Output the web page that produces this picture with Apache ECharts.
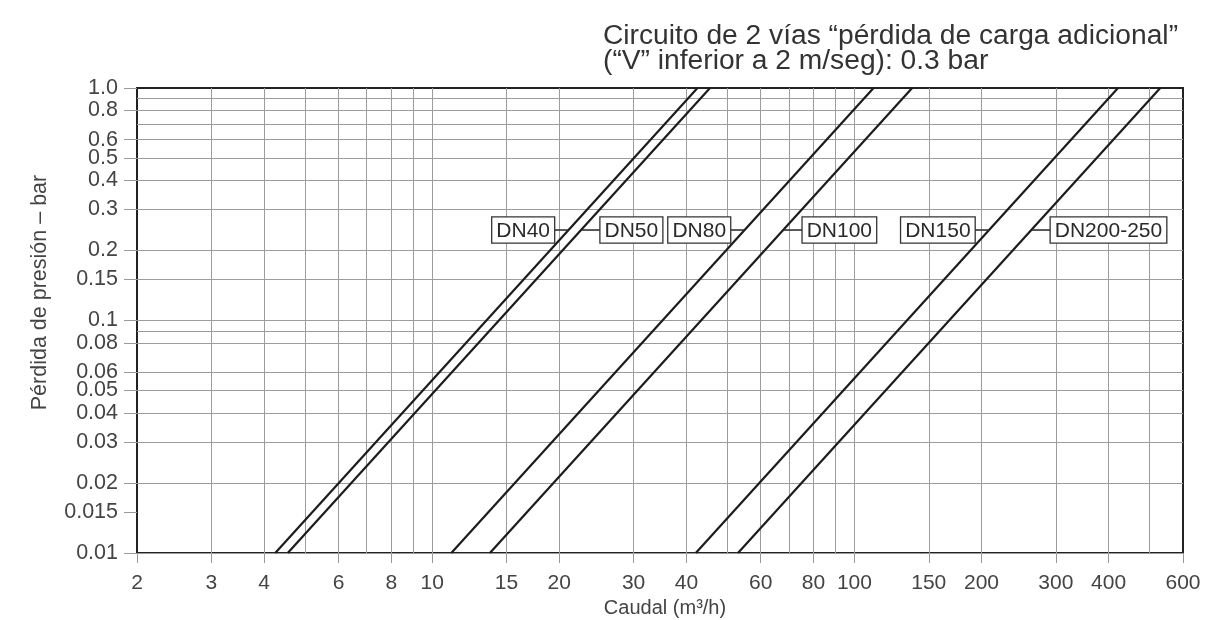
<!DOCTYPE html>
<html><head><meta charset="utf-8">
<script src="https://cdn.jsdelivr.net/npm/echarts@6/dist/echarts.min.js"></script>
<style>html,body{margin:0;padding:0;background:#fff}#c{width:1208px;height:620px}</style>
</head><body><div id="c"></div>
<script>
// ---- data ----
const seriesNames   = ['DN40', 'DN50', 'DN80', 'DN100', 'DN150', 'DN200-250'];
const flowAtMinLoss = [4.25, 4.55, 11.1, 13.7, 42.1, 53.0];   // m3/h at 0.01 bar
const flowAtMaxLoss = [42.5, 45.5, 111, 137, 421, 530];       // m3/h at 1.0 bar
const lossRange     = [0.01, 1.0];
const labelLoss     = 0.245;
const labelSide     = ['left', 'right', 'left', 'right', 'left', 'right'];
const xTickValues   = [2, 3, 4, 6, 8, 10, 15, 20, 30, 40, 60, 80, 100, 150, 200, 300, 400, 600];
const xGridValues   = [3, 4, 5, 6, 7, 8, 9, 10, 15, 20, 30, 40, 50, 60, 70, 80, 90, 100, 150, 200, 300, 400, 500];
const yTickValues   = [0.01, 0.015, 0.02, 0.03, 0.04, 0.05, 0.06, 0.08, 0.1, 0.15, 0.2, 0.3, 0.4, 0.5, 0.6, 0.8, 1.0];
const yTickLabels   = ['0.01', '0.015', '0.02', '0.03', '0.04', '0.05', '0.06', '0.08', '0.1', '0.15', '0.2', '0.3', '0.4', '0.5', '0.6', '0.8', '1.0'];
const yGridValues   = [0.015, 0.02, 0.03, 0.04, 0.05, 0.06, 0.08, 0.09, 0.1, 0.15, 0.2, 0.3, 0.4, 0.5, 0.6, 0.7, 0.8, 0.9];
const titleText     = 'Circuito de 2 vías “pérdida de carga adicional”\n(“V” inferior a 2 m/seg): 0.3 bar';
const xName         = 'Caudal (m³/h)';
const yName         = 'Pérdida de presión – bar';

// ---- chart ----
const FONT = '"Liberation Sans", Arial, Helvetica, sans-serif';
const chart = echarts.init(document.getElementById('c'), null, {renderer: 'canvas'});

function yLabel(v) {
  let best = 0, bd = Infinity;
  yTickValues.forEach((t, i) => { const d = Math.abs(Math.log10(v) - Math.log10(t)); if (d < bd) { bd = d; best = i; } });
  return yTickLabels[best];
}
function xLabel(v) { return String(Math.round(v)); }

function labelFlow(i) {
  const a = Math.log10(flowAtMinLoss[i]), b = Math.log10(flowAtMaxLoss[i]);
  const t = (Math.log10(labelLoss) - Math.log10(lossRange[0])) / (Math.log10(lossRange[1]) - Math.log10(lossRange[0]));
  return Math.pow(10, a + t * (b - a));
}

const richStyle = {
  b: {fontFamily: FONT, fontSize: 21, color: '#2a2a2a', borderColor: '#333', borderWidth: 1.3,
      backgroundColor: '#fff', padding: [3, 4, 1, 4], lineHeight: 22},
  l: {width: 14, height: 1.6, lineHeight: 2, backgroundColor: '#333', fontSize: 2},
  r: {width: 19, height: 1.6, lineHeight: 2, backgroundColor: '#333', fontSize: 2}
};

const dataSeries = seriesNames.map((n, i) => ({
  type: 'line',
  name: n,
  data: [[flowAtMinLoss[i], lossRange[0]], [flowAtMaxLoss[i], lossRange[1]]],
  symbol: 'none',
  lineStyle: {color: '#1c1c1c', width: 2.2},
  z: 3,
  silent: true,
  markPoint: {
    symbol: 'circle', symbolSize: 1, silent: true, z: 6,
    itemStyle: {color: 'rgba(0,0,0,0)'},
    data: [{coord: [labelFlow(i), labelLoss], value: n}],
    label: {
      show: true, position: labelSide[i], distance: 0,
      formatter: labelSide[i] === 'left' ? '{b|' + n + '}{l| }' : '{r| }{b|' + n + '}',
      rich: richStyle
    }
  }
}));

const gridSeries = {
  type: 'line', data: [], silent: true, z: 1,
  markLine: {
    silent: true, z: 1, symbol: ['none', 'none'], label: {show: false},
    lineStyle: {color: '#9c9c9c', width: 1, type: 'solid'},
    emphasis: {disabled: true},
    data: xGridValues.map(v => ({xAxis: v})).concat(yGridValues.map(v => ({yAxis: v})))
  }
};

const option = {
  animation: false,
  backgroundColor: '#fff',
  title: {
    text: titleText, left: 598, top: 19,
    textStyle: {fontFamily: FONT, fontSize: 28.2, fontWeight: 'normal', color: '#333', lineHeight: 25}
  },
  grid: {left: 137, right: 25, top: 88, bottom: 67, outerBoundsMode: 'none', containLabel: false,
         show: true, borderColor: '#222', borderWidth: 2, backgroundColor: 'transparent'},
  xAxis: {
    type: 'log', logBase: 10, min: 2, max: 600,
    name: xName, nameLocation: 'middle', nameGap: 42,
    nameTextStyle: {fontFamily: FONT, fontSize: 20, color: '#444', padding: [0, 0, 0, 10]},
    axisLine: {show: true, lineStyle: {color: '#222', width: 2}},
    axisTick: {show: true, customValues: xTickValues, length: 10, lineStyle: {color: '#999', width: 1}},
    axisLabel: {customValues: xTickValues, margin: 20, formatter: xLabel, fontFamily: FONT, fontSize: 21, color: '#444'},
    splitLine: {show: false}, minorTick: {show: false}, minorSplitLine: {show: false}
  },
  yAxis: {
    type: 'log', logBase: 10, min: 0.01, max: 1.0,
    name: yName, nameLocation: 'middle', nameGap: 86, nameRotate: 90,
    nameTextStyle: {fontFamily: FONT, fontSize: 21.5, color: '#444', padding: [0, 0, 0, 56]},
    axisLine: {show: true, lineStyle: {color: '#222', width: 2}},
    axisTick: {show: true, customValues: yTickValues, length: 13, lineStyle: {color: '#999', width: 1}},
    axisLabel: {customValues: yTickValues, margin: 19, formatter: yLabel, fontFamily: FONT, fontSize: 21.5, color: '#444'},
    splitLine: {show: false}, minorTick: {show: false}, minorSplitLine: {show: false}
  },
  series: [gridSeries].concat(dataSeries)
};
chart.setOption(option);
</script>
</body></html>
